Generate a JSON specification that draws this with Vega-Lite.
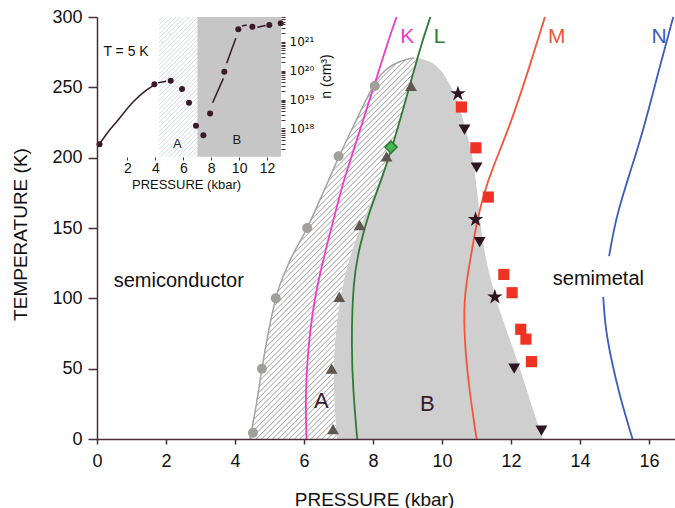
{
  "$schema": "https://vega.github.io/schema/vega-lite/v6.json",
  "width": 578,
  "height": 422,
  "autosize": {"type": "none"},
  "padding": {"left": 97, "top": 17, "right": 0, "bottom": 69},
  "background": "white",
  "config": {"view": {"stroke": null}, "font": "Liberation Sans", "axis": {"grid": false}},
  "datasets": {
    "dome": [
      {"T": 0, "xl": 4.43, "xm": 6.95, "xr": 12.92},
      {"T": 25, "xl": 4.62, "xm": 6.88, "xr": 12.58},
      {"T": 50, "xl": 4.78, "xm": 6.86, "xr": 12.26},
      {"T": 75, "xl": 4.96, "xm": 6.92, "xr": 11.9},
      {"T": 100, "xl": 5.18, "xm": 7.05, "xr": 11.56},
      {"T": 125, "xl": 5.56, "xm": 7.28, "xr": 11.3},
      {"T": 150, "xl": 6.09, "xm": 7.62, "xr": 11.13},
      {"T": 175, "xl": 6.55, "xm": 8.05, "xr": 11.02},
      {"T": 200, "xl": 7.0, "xm": 8.42, "xr": 10.88},
      {"T": 225, "xl": 7.48, "xm": 8.75, "xr": 10.63},
      {"T": 245, "xl": 7.88, "xm": 9.0, "xr": 10.36},
      {"T": 255, "xl": 8.1, "xm": 9.1, "xr": 10.15},
      {"T": 263, "xl": 8.4, "xm": 9.18, "xr": 9.92},
      {"T": 268, "xl": 8.75, "xm": 9.22, "xr": 9.66},
      {"T": 271, "xl": 9.2, "xm": 9.25, "xr": 9.3}
    ],
    "lines": [
      {"line": "K", "seg": "K", "p": 6.07, "T": 0},
      {"line": "K", "seg": "K", "p": 6.04, "T": 30},
      {"line": "K", "seg": "K", "p": 6.1, "T": 60},
      {"line": "K", "seg": "K", "p": 6.28, "T": 99},
      {"line": "K", "seg": "K", "p": 6.65, "T": 137},
      {"line": "K", "seg": "K", "p": 6.95, "T": 165},
      {"line": "K", "seg": "K", "p": 7.15, "T": 184},
      {"line": "K", "seg": "K", "p": 7.38, "T": 201},
      {"line": "K", "seg": "K", "p": 7.9, "T": 241},
      {"line": "K", "seg": "K", "p": 8.45, "T": 284},
      {"line": "K", "seg": "K", "p": 8.68, "T": 300},
      {"line": "L", "seg": "L", "p": 7.54, "T": 0},
      {"line": "L", "seg": "L", "p": 7.42, "T": 35},
      {"line": "L", "seg": "L", "p": 7.37, "T": 66},
      {"line": "L", "seg": "L", "p": 7.42, "T": 113},
      {"line": "L", "seg": "L", "p": 7.61, "T": 137},
      {"line": "L", "seg": "L", "p": 7.88, "T": 161},
      {"line": "L", "seg": "L", "p": 8.24, "T": 184},
      {"line": "L", "seg": "L", "p": 8.55, "T": 207},
      {"line": "L", "seg": "L", "p": 8.95, "T": 241},
      {"line": "L", "seg": "L", "p": 9.35, "T": 277},
      {"line": "L", "seg": "L", "p": 9.66, "T": 300},
      {"line": "M", "seg": "M", "p": 11.0, "T": 0},
      {"line": "M", "seg": "M", "p": 10.75, "T": 41},
      {"line": "M", "seg": "M", "p": 10.63, "T": 78},
      {"line": "M", "seg": "M", "p": 10.65, "T": 100},
      {"line": "M", "seg": "M", "p": 10.73, "T": 115},
      {"line": "M", "seg": "M", "p": 10.87, "T": 135},
      {"line": "M", "seg": "M", "p": 11.02, "T": 156},
      {"line": "M", "seg": "M", "p": 11.22, "T": 175},
      {"line": "M", "seg": "M", "p": 11.45, "T": 192},
      {"line": "M", "seg": "M", "p": 11.96, "T": 222},
      {"line": "M", "seg": "M", "p": 12.54, "T": 265},
      {"line": "M", "seg": "M", "p": 12.98, "T": 300},
      {"line": "N", "seg": "N1", "p": 15.52, "T": 0},
      {"line": "N", "seg": "N1", "p": 15.15, "T": 30},
      {"line": "N", "seg": "N1", "p": 14.86, "T": 61},
      {"line": "N", "seg": "N1", "p": 14.72, "T": 82},
      {"line": "N", "seg": "N1", "p": 14.67, "T": 101},
      {"line": "N", "seg": "N2", "p": 14.84, "T": 130},
      {"line": "N", "seg": "N2", "p": 15.0, "T": 152},
      {"line": "N", "seg": "N2", "p": 15.2, "T": 170},
      {"line": "N", "seg": "N2", "p": 15.4, "T": 186},
      {"line": "N", "seg": "N2", "p": 15.83, "T": 219},
      {"line": "N", "seg": "N2", "p": 16.31, "T": 265},
      {"line": "N", "seg": "N2", "p": 16.7, "T": 300}
    ],
    "lineLabels": [
      {"line": "K", "p": 8.99, "T": 286},
      {"line": "L", "p": 9.93, "T": 286},
      {"line": "M", "p": 13.32, "T": 286},
      {"line": "N", "p": 16.29, "T": 286}
    ],
    "circles": [
      {"p": 4.52, "T": 4.5}, {"p": 4.78, "T": 50}, {"p": 5.18, "T": 100},
      {"p": 6.09, "T": 150}, {"p": 7.0, "T": 201}, {"p": 8.05, "T": 251}
    ],
    "upTri": [
      {"p": 6.84, "T": 7}, {"p": 6.8, "T": 50}, {"p": 7.02, "T": 101},
      {"p": 7.61, "T": 152}, {"p": 8.39, "T": 201}, {"p": 9.1, "T": 251}
    ],
    "diamond": [{"p": 8.52, "T": 207.5}],
    "downTri": [
      {"p": 10.65, "T": 220}, {"p": 11.0, "T": 193}, {"p": 11.09, "T": 140},
      {"p": 12.09, "T": 50}, {"p": 12.88, "T": 6}
    ],
    "stars": [{"p": 10.46, "T": 245.5}, {"p": 10.97, "T": 156}, {"p": 11.53, "T": 101}],
    "squares": [
      {"p": 10.56, "T": 236}, {"p": 10.98, "T": 207}, {"p": 11.34, "T": 172},
      {"p": 11.79, "T": 117}, {"p": 12.03, "T": 104}, {"p": 12.28, "T": 78},
      {"p": 12.43, "T": 71}, {"p": 12.59, "T": 55}
    ],
    "phaseLabels": [
      {"txt": "semiconductor", "p": 2.37, "T": 112},
      {"txt": "semimetal", "p": 14.53, "T": 114}
    ],
    "abLabels": [
      {"txt": "A", "p": 6.5, "T": 27},
      {"txt": "B", "p": 9.57, "T": 25}
    ],
    "insetPts": [
      {"ip": 0, "n": 2.82e17}, {"ip": 3.93, "n": 3.39e19}, {"ip": 5.1, "n": 4.47e19},
      {"ip": 5.91, "n": 2.29e19}, {"ip": 6.41, "n": 7.76e18}, {"ip": 6.91, "n": 1.23e18},
      {"ip": 7.44, "n": 5.75e17}, {"ip": 7.92, "n": 3.31e18}, {"ip": 8.94, "n": 9.12e19},
      {"ip": 9.94, "n": 2.69e21}, {"ip": 10.95, "n": 3.31e21}, {"ip": 12.16, "n": 3.8e21},
      {"ip": 12.98, "n": 4.37e21}
    ],
    "insetLines": [
      {"seg": 1, "ip": 0.05, "n": 3.16e17},
      {"seg": 1, "ip": 0.6, "n": 7.41e17},
      {"seg": 1, "ip": 1.23, "n": 1.7e18},
      {"seg": 1, "ip": 2.42, "n": 8.32e18},
      {"seg": 1, "ip": 3.38, "n": 2.14e19},
      {"seg": 1, "ip": 3.9, "n": 3.16e19},
      {"seg": 2, "ip": 4.2, "n": 3.8e19},
      {"seg": 2, "ip": 4.78, "n": 4.27e19},
      {"seg": 3, "ip": 8.1, "n": 7.76e18},
      {"seg": 3, "ip": 8.87, "n": 5.37e19},
      {"seg": 4, "ip": 9.11, "n": 1.78e20},
      {"seg": 4, "ip": 9.76, "n": 1.32e21},
      {"seg": 5, "ip": 10.2, "n": 3.47e21},
      {"seg": 5, "ip": 10.55, "n": 3.8e21},
      {"seg": 6, "ip": 11.3, "n": 3.16e21},
      {"seg": 6, "ip": 11.9, "n": 3.63e21}
    ],
    "insetGrey": [{"ip": 7.0, "ip2": 13}],
    "insetHatch": [{"ip": 4.26, "ip2": 7.0}],
    "insetText": [
      {"txt": "T = 5 K", "ip": 1.9, "n": 4.47e20}
    ],
    "insetAB": [
      {"txt": "A", "ip": 5.57, "n": 2.88e17},
      {"txt": "B", "ip": 9.83, "n": 3.98e17}
    ]
  },
  "layer": [
    {
      "layer": [
        {
          "data": {"name": "dome"},
          "mark": {"type": "area", "orient": "horizontal", "interpolate": "monotone", "color": "#cfcfcf"},
          "encoding": {
            "y": {"field": "T", "type": "quantitative", "scale": {"domain": [0, 300], "nice": false, "zero": false},
              "axis": {"orient": "left", "zindex": 1, "values": [0, 50, 100, 150, 200, 250, 300], "domainColor": "#4a2f3a", "domainWidth": 1.5, "tickColor": "#4a2f3a", "tickWidth": 1.5, "tickSize": 9, "labelFontSize": 18, "labelColor": "#111", "labelPadding": 6, "labelFont": "Liberation Sans", "title": "TEMPERATURE  (K)", "titleFont": "Liberation Sans", "titleFontSize": 19, "titleFontWeight": "normal", "titleColor": "#111", "titleX": -77, "titleY": 217, "titleAngle": 270, "titleBaseline": "middle", "titleAlign": "center", "grid": false}},
            "x": {"field": "xm", "type": "quantitative", "scale": {"domain": [0, 16.75], "nice": false, "zero": false},
              "axis": {"orient": "bottom", "zindex": 1, "values": [0, 2, 4, 6, 8, 10, 12, 14, 16], "format": "d", "domainColor": "#4a2f3a", "domainWidth": 1.5, "tickColor": "#4a2f3a", "tickWidth": 1.5, "tickSize": 5, "labelFontSize": 18, "labelColor": "#111", "labelPadding": 8, "labelFlush": false, "labelFont": "Liberation Sans", "title": "PRESSURE (kbar)", "titleFont": "Liberation Sans", "titleFontSize": 19, "titleFontWeight": "normal", "titleColor": "#111", "titleX": 277, "titleY": 60, "titleBaseline": "middle", "titleAlign": "center", "grid": false}},
            "x2": {"field": "xr"}
          }
        },
        {
          "data": {"name": "dome"},
          "mark": {"type": "area", "orient": "horizontal", "interpolate": "monotone", "stroke": null,
            "fill": {"gradient": "linear", "x1": 0, "y1": 0, "x2": 0.5264, "y2": 1.2066, "stops": [
{"offset":0.00,"color":"#fff"},{"offset":0.0055,"color":"#fff"},{"offset":0.0075,"color":"#aaa"},
{"offset":0.01,"color":"#fff"},{"offset":0.0155,"color":"#fff"},{"offset":0.0175,"color":"#aaa"},
{"offset":0.02,"color":"#fff"},{"offset":0.0255,"color":"#fff"},{"offset":0.0275,"color":"#aaa"},
{"offset":0.03,"color":"#fff"},{"offset":0.0355,"color":"#fff"},{"offset":0.0375,"color":"#aaa"},
{"offset":0.04,"color":"#fff"},{"offset":0.0455,"color":"#fff"},{"offset":0.0475,"color":"#aaa"},
{"offset":0.05,"color":"#fff"},{"offset":0.0555,"color":"#fff"},{"offset":0.0575,"color":"#aaa"},
{"offset":0.06,"color":"#fff"},{"offset":0.0655,"color":"#fff"},{"offset":0.0675,"color":"#aaa"},
{"offset":0.07,"color":"#fff"},{"offset":0.0755,"color":"#fff"},{"offset":0.0775,"color":"#aaa"},
{"offset":0.08,"color":"#fff"},{"offset":0.0855,"color":"#fff"},{"offset":0.0875,"color":"#aaa"},
{"offset":0.09,"color":"#fff"},{"offset":0.0955,"color":"#fff"},{"offset":0.0975,"color":"#aaa"},
{"offset":0.10,"color":"#fff"},{"offset":0.1055,"color":"#fff"},{"offset":0.1075,"color":"#aaa"},
{"offset":0.11,"color":"#fff"},{"offset":0.1155,"color":"#fff"},{"offset":0.1175,"color":"#aaa"},
{"offset":0.12,"color":"#fff"},{"offset":0.1255,"color":"#fff"},{"offset":0.1275,"color":"#aaa"},
{"offset":0.13,"color":"#fff"},{"offset":0.1355,"color":"#fff"},{"offset":0.1375,"color":"#aaa"},
{"offset":0.14,"color":"#fff"},{"offset":0.1455,"color":"#fff"},{"offset":0.1475,"color":"#aaa"},
{"offset":0.15,"color":"#fff"},{"offset":0.1555,"color":"#fff"},{"offset":0.1575,"color":"#aaa"},
{"offset":0.16,"color":"#fff"},{"offset":0.1655,"color":"#fff"},{"offset":0.1675,"color":"#aaa"},
{"offset":0.17,"color":"#fff"},{"offset":0.1755,"color":"#fff"},{"offset":0.1775,"color":"#aaa"},
{"offset":0.18,"color":"#fff"},{"offset":0.1855,"color":"#fff"},{"offset":0.1875,"color":"#aaa"},
{"offset":0.19,"color":"#fff"},{"offset":0.1955,"color":"#fff"},{"offset":0.1975,"color":"#aaa"},
{"offset":0.20,"color":"#fff"},{"offset":0.2055,"color":"#fff"},{"offset":0.2075,"color":"#aaa"},
{"offset":0.21,"color":"#fff"},{"offset":0.2155,"color":"#fff"},{"offset":0.2175,"color":"#aaa"},
{"offset":0.22,"color":"#fff"},{"offset":0.2255,"color":"#fff"},{"offset":0.2275,"color":"#aaa"},
{"offset":0.23,"color":"#fff"},{"offset":0.2355,"color":"#fff"},{"offset":0.2375,"color":"#aaa"},
{"offset":0.24,"color":"#fff"},{"offset":0.2455,"color":"#fff"},{"offset":0.2475,"color":"#aaa"},
{"offset":0.25,"color":"#fff"},{"offset":0.2555,"color":"#fff"},{"offset":0.2575,"color":"#aaa"},
{"offset":0.26,"color":"#fff"},{"offset":0.2655,"color":"#fff"},{"offset":0.2675,"color":"#aaa"},
{"offset":0.27,"color":"#fff"},{"offset":0.2755,"color":"#fff"},{"offset":0.2775,"color":"#aaa"},
{"offset":0.28,"color":"#fff"},{"offset":0.2855,"color":"#fff"},{"offset":0.2875,"color":"#aaa"},
{"offset":0.29,"color":"#fff"},{"offset":0.2955,"color":"#fff"},{"offset":0.2975,"color":"#aaa"},
{"offset":0.30,"color":"#fff"},{"offset":0.3055,"color":"#fff"},{"offset":0.3075,"color":"#aaa"},
{"offset":0.31,"color":"#fff"},{"offset":0.3155,"color":"#fff"},{"offset":0.3175,"color":"#aaa"},
{"offset":0.32,"color":"#fff"},{"offset":0.3255,"color":"#fff"},{"offset":0.3275,"color":"#aaa"},
{"offset":0.33,"color":"#fff"},{"offset":0.3355,"color":"#fff"},{"offset":0.3375,"color":"#aaa"},
{"offset":0.34,"color":"#fff"},{"offset":0.3455,"color":"#fff"},{"offset":0.3475,"color":"#aaa"},
{"offset":0.35,"color":"#fff"},{"offset":0.3555,"color":"#fff"},{"offset":0.3575,"color":"#aaa"},
{"offset":0.36,"color":"#fff"},{"offset":0.3655,"color":"#fff"},{"offset":0.3675,"color":"#aaa"},
{"offset":0.37,"color":"#fff"},{"offset":0.3755,"color":"#fff"},{"offset":0.3775,"color":"#aaa"},
{"offset":0.38,"color":"#fff"},{"offset":0.3855,"color":"#fff"},{"offset":0.3875,"color":"#aaa"},
{"offset":0.39,"color":"#fff"},{"offset":0.3955,"color":"#fff"},{"offset":0.3975,"color":"#aaa"},
{"offset":0.40,"color":"#fff"},{"offset":0.4055,"color":"#fff"},{"offset":0.4075,"color":"#aaa"},
{"offset":0.41,"color":"#fff"},{"offset":0.4155,"color":"#fff"},{"offset":0.4175,"color":"#aaa"},
{"offset":0.42,"color":"#fff"},{"offset":0.4255,"color":"#fff"},{"offset":0.4275,"color":"#aaa"},
{"offset":0.43,"color":"#fff"},{"offset":0.4355,"color":"#fff"},{"offset":0.4375,"color":"#aaa"},
{"offset":0.44,"color":"#fff"},{"offset":0.4455,"color":"#fff"},{"offset":0.4475,"color":"#aaa"},
{"offset":0.45,"color":"#fff"},{"offset":0.4555,"color":"#fff"},{"offset":0.4575,"color":"#aaa"},
{"offset":0.46,"color":"#fff"},{"offset":0.4655,"color":"#fff"},{"offset":0.4675,"color":"#aaa"},
{"offset":0.47,"color":"#fff"},{"offset":0.4755,"color":"#fff"},{"offset":0.4775,"color":"#aaa"},
{"offset":0.48,"color":"#fff"},{"offset":0.4855,"color":"#fff"},{"offset":0.4875,"color":"#aaa"},
{"offset":0.49,"color":"#fff"},{"offset":0.4955,"color":"#fff"},{"offset":0.4975,"color":"#aaa"},
{"offset":0.50,"color":"#fff"},{"offset":0.5055,"color":"#fff"},{"offset":0.5075,"color":"#aaa"},
{"offset":0.51,"color":"#fff"},{"offset":0.5155,"color":"#fff"},{"offset":0.5175,"color":"#aaa"},
{"offset":0.52,"color":"#fff"},{"offset":0.5255,"color":"#fff"},{"offset":0.5275,"color":"#aaa"},
{"offset":0.53,"color":"#fff"},{"offset":0.5355,"color":"#fff"},{"offset":0.5375,"color":"#aaa"},
{"offset":0.54,"color":"#fff"},{"offset":0.5455,"color":"#fff"},{"offset":0.5475,"color":"#aaa"},
{"offset":0.55,"color":"#fff"},{"offset":0.5555,"color":"#fff"},{"offset":0.5575,"color":"#aaa"},
{"offset":0.56,"color":"#fff"},{"offset":0.5655,"color":"#fff"},{"offset":0.5675,"color":"#aaa"},
{"offset":0.57,"color":"#fff"},{"offset":0.5755,"color":"#fff"},{"offset":0.5775,"color":"#aaa"},
{"offset":0.58,"color":"#fff"},{"offset":0.5855,"color":"#fff"},{"offset":0.5875,"color":"#aaa"},
{"offset":0.59,"color":"#fff"},{"offset":0.5955,"color":"#fff"},{"offset":0.5975,"color":"#aaa"},
{"offset":0.60,"color":"#fff"},{"offset":0.6055,"color":"#fff"},{"offset":0.6075,"color":"#aaa"},
{"offset":0.61,"color":"#fff"},{"offset":0.6155,"color":"#fff"},{"offset":0.6175,"color":"#aaa"},
{"offset":0.62,"color":"#fff"},{"offset":0.6255,"color":"#fff"},{"offset":0.6275,"color":"#aaa"},
{"offset":0.63,"color":"#fff"},{"offset":0.6355,"color":"#fff"},{"offset":0.6375,"color":"#aaa"},
{"offset":0.64,"color":"#fff"},{"offset":0.6455,"color":"#fff"},{"offset":0.6475,"color":"#aaa"},
{"offset":0.65,"color":"#fff"},{"offset":0.6555,"color":"#fff"},{"offset":0.6575,"color":"#aaa"},
{"offset":0.66,"color":"#fff"},{"offset":0.6655,"color":"#fff"},{"offset":0.6675,"color":"#aaa"},
{"offset":0.67,"color":"#fff"},{"offset":0.6755,"color":"#fff"},{"offset":0.6775,"color":"#aaa"},
{"offset":0.68,"color":"#fff"},{"offset":0.6855,"color":"#fff"},{"offset":0.6875,"color":"#aaa"},
{"offset":0.69,"color":"#fff"},{"offset":0.6955,"color":"#fff"},{"offset":0.6975,"color":"#aaa"},
{"offset":0.70,"color":"#fff"},{"offset":0.7055,"color":"#fff"},{"offset":0.7075,"color":"#aaa"},
{"offset":0.71,"color":"#fff"},{"offset":0.7155,"color":"#fff"},{"offset":0.7175,"color":"#aaa"},
{"offset":0.72,"color":"#fff"},{"offset":0.7255,"color":"#fff"},{"offset":0.7275,"color":"#aaa"},
{"offset":0.73,"color":"#fff"},{"offset":0.7355,"color":"#fff"},{"offset":0.7375,"color":"#aaa"},
{"offset":0.74,"color":"#fff"},{"offset":0.7455,"color":"#fff"},{"offset":0.7475,"color":"#aaa"},
{"offset":0.75,"color":"#fff"},{"offset":0.7555,"color":"#fff"},{"offset":0.7575,"color":"#aaa"},
{"offset":0.76,"color":"#fff"},{"offset":0.7655,"color":"#fff"},{"offset":0.7675,"color":"#aaa"},
{"offset":0.77,"color":"#fff"},{"offset":0.7755,"color":"#fff"},{"offset":0.7775,"color":"#aaa"},
{"offset":0.78,"color":"#fff"},{"offset":0.7855,"color":"#fff"},{"offset":0.7875,"color":"#aaa"},
{"offset":0.79,"color":"#fff"},{"offset":0.7955,"color":"#fff"},{"offset":0.7975,"color":"#aaa"},
{"offset":0.80,"color":"#fff"},{"offset":0.8055,"color":"#fff"},{"offset":0.8075,"color":"#aaa"},
{"offset":0.81,"color":"#fff"},{"offset":0.8155,"color":"#fff"},{"offset":0.8175,"color":"#aaa"},
{"offset":0.82,"color":"#fff"},{"offset":0.8255,"color":"#fff"},{"offset":0.8275,"color":"#aaa"},
{"offset":0.83,"color":"#fff"},{"offset":0.8355,"color":"#fff"},{"offset":0.8375,"color":"#aaa"},
{"offset":0.84,"color":"#fff"},{"offset":0.8455,"color":"#fff"},{"offset":0.8475,"color":"#aaa"},
{"offset":0.85,"color":"#fff"},{"offset":0.8555,"color":"#fff"},{"offset":0.8575,"color":"#aaa"},
{"offset":0.86,"color":"#fff"},{"offset":0.8655,"color":"#fff"},{"offset":0.8675,"color":"#aaa"},
{"offset":0.87,"color":"#fff"},{"offset":0.8755,"color":"#fff"},{"offset":0.8775,"color":"#aaa"},
{"offset":0.88,"color":"#fff"},{"offset":0.8855,"color":"#fff"},{"offset":0.8875,"color":"#aaa"},
{"offset":0.89,"color":"#fff"},{"offset":0.8955,"color":"#fff"},{"offset":0.8975,"color":"#aaa"},
{"offset":0.90,"color":"#fff"},{"offset":0.9055,"color":"#fff"},{"offset":0.9075,"color":"#aaa"},
{"offset":0.91,"color":"#fff"},{"offset":0.9155,"color":"#fff"},{"offset":0.9175,"color":"#aaa"},
{"offset":0.92,"color":"#fff"},{"offset":0.9255,"color":"#fff"},{"offset":0.9275,"color":"#aaa"},
{"offset":0.93,"color":"#fff"},{"offset":0.9355,"color":"#fff"},{"offset":0.9375,"color":"#aaa"},
{"offset":0.94,"color":"#fff"},{"offset":0.9455,"color":"#fff"},{"offset":0.9475,"color":"#aaa"},
{"offset":0.95,"color":"#fff"},{"offset":0.9555,"color":"#fff"},{"offset":0.9575,"color":"#aaa"},
{"offset":0.96,"color":"#fff"},{"offset":0.9655,"color":"#fff"},{"offset":0.9675,"color":"#aaa"},
{"offset":0.97,"color":"#fff"},{"offset":0.9755,"color":"#fff"},{"offset":0.9775,"color":"#aaa"},
{"offset":0.98,"color":"#fff"},{"offset":0.9855,"color":"#fff"},{"offset":0.9875,"color":"#aaa"},
{"offset":0.99,"color":"#fff"},{"offset":0.9955,"color":"#fff"},{"offset":0.9975,"color":"#aaa"},
{"offset":1,"color":"#fff"}
            ]}},
          "encoding": {
            "y": {"field": "T", "type": "quantitative", "scale": {"domain": [0, 300], "nice": false, "zero": false}},
            "x": {"field": "xl", "type": "quantitative", "scale": {"domain": [0, 16.75], "nice": false, "zero": false}},
            "x2": {"field": "xm"}
          }
        },
        {
          "data": {"name": "dome"},
          "mark": {"type": "line", "orient": "horizontal", "interpolate": "monotone", "color": "#a3a3a0", "strokeWidth": 1.5},
          "encoding": {
            "y": {"field": "T", "type": "quantitative", "scale": {"domain": [0, 300], "nice": false, "zero": false}},
            "x": {"field": "xl", "type": "quantitative", "scale": {"domain": [0, 16.75], "nice": false, "zero": false}},
            "order": {"field": "T", "type": "quantitative"}
          }
        },
        {
          "data": {"name": "lines"},
          "mark": {"type": "line", "interpolate": "basis", "strokeWidth": 1.8},
          "encoding": {
            "y": {"field": "T", "type": "quantitative", "scale": {"domain": [0, 300], "nice": false, "zero": false}},
            "x": {"field": "p", "type": "quantitative", "scale": {"domain": [0, 16.75], "nice": false, "zero": false}},
            "color": {"field": "line", "type": "nominal", "scale": {"domain": ["K", "L", "M", "N"], "range": ["#ee3ccb", "#2f7a35", "#f2553a", "#3a5cc0"]}, "legend": null},
            "detail": {"field": "seg", "type": "nominal"},
            "order": {"field": "T", "type": "quantitative"}
          }
        },
        {
          "data": {"name": "circles"},
          "mark": {"type": "point", "shape": "circle", "filled": true, "size": 100, "color": "#a09f9b", "opacity": 1},
          "encoding": {
            "y": {"field": "T", "type": "quantitative", "scale": {"domain": [0, 300], "nice": false, "zero": false}},
            "x": {"field": "p", "type": "quantitative", "scale": {"domain": [0, 16.75], "nice": false, "zero": false}}
          }
        },
        {
          "data": {"name": "upTri"},
          "mark": {"type": "point", "shape": "triangle-up", "filled": true, "size": 140, "color": "#5e564f", "opacity": 1},
          "encoding": {
            "y": {"field": "T", "type": "quantitative", "scale": {"domain": [0, 300], "nice": false, "zero": false}},
            "x": {"field": "p", "type": "quantitative", "scale": {"domain": [0, 16.75], "nice": false, "zero": false}}
          }
        },
        {
          "data": {"name": "diamond"},
          "mark": {"type": "point", "shape": "diamond", "filled": true, "size": 150, "fill": "#45b555", "stroke": "#2e7d32", "strokeWidth": 1.5, "opacity": 1},
          "encoding": {
            "y": {"field": "T", "type": "quantitative", "scale": {"domain": [0, 300], "nice": false, "zero": false}},
            "x": {"field": "p", "type": "quantitative", "scale": {"domain": [0, 16.75], "nice": false, "zero": false}}
          }
        },
        {
          "data": {"name": "downTri"},
          "mark": {"type": "point", "shape": "triangle-down", "filled": true, "size": 140, "color": "#2d1420", "opacity": 1},
          "encoding": {
            "y": {"field": "T", "type": "quantitative", "scale": {"domain": [0, 300], "nice": false, "zero": false}},
            "x": {"field": "p", "type": "quantitative", "scale": {"domain": [0, 16.75], "nice": false, "zero": false}}
          }
        },
        {
          "data": {"name": "stars"},
          "mark": {"type": "point", "shape": "M0,-1L0.225,-0.309L0.951,-0.309L0.363,0.118L0.588,0.809L0,0.382L-0.588,0.809L-0.363,0.118L-0.951,-0.309L-0.225,-0.309Z", "filled": true, "size": 260, "color": "#2d1420", "opacity": 1},
          "encoding": {
            "y": {"field": "T", "type": "quantitative", "scale": {"domain": [0, 300], "nice": false, "zero": false}},
            "x": {"field": "p", "type": "quantitative", "scale": {"domain": [0, 16.75], "nice": false, "zero": false}}
          }
        },
        {
          "data": {"name": "squares"},
          "mark": {"type": "point", "shape": "square", "filled": true, "size": 125, "color": "#ee3325", "opacity": 1},
          "encoding": {
            "y": {"field": "T", "type": "quantitative", "scale": {"domain": [0, 300], "nice": false, "zero": false}},
            "x": {"field": "p", "type": "quantitative", "scale": {"domain": [0, 16.75], "nice": false, "zero": false}}
          }
        },
        {
          "data": {"name": "phaseLabels"},
          "mark": {"type": "text", "fontSize": 20, "color": "#111", "align": "center", "baseline": "middle", "font": "Liberation Sans"},
          "encoding": {
            "y": {"field": "T", "type": "quantitative", "scale": {"domain": [0, 300], "nice": false, "zero": false}},
            "x": {"field": "p", "type": "quantitative", "scale": {"domain": [0, 16.75], "nice": false, "zero": false}},
            "text": {"field": "txt"}
          }
        },
        {
          "data": {"name": "abLabels"},
          "mark": {"type": "text", "fontSize": 22, "color": "#3a1a2a", "align": "center", "baseline": "middle", "font": "Liberation Sans"},
          "encoding": {
            "y": {"field": "T", "type": "quantitative", "scale": {"domain": [0, 300], "nice": false, "zero": false}},
            "x": {"field": "p", "type": "quantitative", "scale": {"domain": [0, 16.75], "nice": false, "zero": false}},
            "text": {"field": "txt"}
          }
        },
        {
          "data": {"name": "lineLabels"},
          "mark": {"type": "text", "fontSize": 21, "align": "center", "baseline": "middle", "font": "Liberation Sans"},
          "encoding": {
            "y": {"field": "T", "type": "quantitative", "scale": {"domain": [0, 300], "nice": false, "zero": false}},
            "x": {"field": "p", "type": "quantitative", "scale": {"domain": [0, 16.75], "nice": false, "zero": false}},
            "color": {"field": "line", "type": "nominal", "scale": {"domain": ["K", "L", "M", "N"], "range": ["#ee3ccb", "#2f7a35", "#f2553a", "#3a5cc0"]}, "legend": null},
            "text": {"field": "line"}
          }
        },
        {
          "mark": {"type": "rule", "color": "#4a2f3a", "strokeWidth": 1.5},
          "encoding": {
            "y": {"datum": 300, "type": "quantitative", "scale": {"domain": [0, 300], "nice": false, "zero": false}}
          }
        }
      ]
    },
    {
      "layer": [
        {
          "data": {"name": "insetGrey"},
          "mark": {"type": "rect", "color": "#c6c6c6"},
          "encoding": {
            "x": {"field": "ip", "type": "quantitative", "scale": {"domain": [-0.18, 41.22], "nice": false, "zero": false}},
            "x2": {"field": "ip2"},
            "y": {"datum": 1.05e17, "type": "quantitative", "scale": {"type": "log", "domain": [1.79e7, 7.16e21], "nice": false}},
            "y2": {"datum": 7.16e21}
          }
        },
        {
          "data": {"name": "insetHatch"},
          "mark": {"type": "rect", "stroke": null,
            "fill": {"gradient": "linear", "x1": 0, "y1": 0, "x2": 0.3239, "y2": 1.1848, "stops": [
{"offset":0.000,"color":"#fff"},{"offset":0.014,"color":"#fff"},{"offset":0.019,"color":"#d3d9e8"},
{"offset":0.025,"color":"#fff"},{"offset":0.039,"color":"#fff"},{"offset":0.044,"color":"#d3d9e8"},
{"offset":0.050,"color":"#fff"},{"offset":0.064,"color":"#fff"},{"offset":0.069,"color":"#d3d9e8"},
{"offset":0.075,"color":"#fff"},{"offset":0.089,"color":"#fff"},{"offset":0.094,"color":"#d3d9e8"},
{"offset":0.100,"color":"#fff"},{"offset":0.114,"color":"#fff"},{"offset":0.119,"color":"#d3d9e8"},
{"offset":0.125,"color":"#fff"},{"offset":0.139,"color":"#fff"},{"offset":0.144,"color":"#d3d9e8"},
{"offset":0.150,"color":"#fff"},{"offset":0.164,"color":"#fff"},{"offset":0.169,"color":"#d3d9e8"},
{"offset":0.175,"color":"#fff"},{"offset":0.189,"color":"#fff"},{"offset":0.194,"color":"#d3d9e8"},
{"offset":0.200,"color":"#fff"},{"offset":0.214,"color":"#fff"},{"offset":0.219,"color":"#d3d9e8"},
{"offset":0.225,"color":"#fff"},{"offset":0.239,"color":"#fff"},{"offset":0.244,"color":"#d3d9e8"},
{"offset":0.250,"color":"#fff"},{"offset":0.264,"color":"#fff"},{"offset":0.269,"color":"#d3d9e8"},
{"offset":0.275,"color":"#fff"},{"offset":0.289,"color":"#fff"},{"offset":0.294,"color":"#d3d9e8"},
{"offset":0.300,"color":"#fff"},{"offset":0.314,"color":"#fff"},{"offset":0.319,"color":"#d3d9e8"},
{"offset":0.325,"color":"#fff"},{"offset":0.339,"color":"#fff"},{"offset":0.344,"color":"#d3d9e8"},
{"offset":0.350,"color":"#fff"},{"offset":0.364,"color":"#fff"},{"offset":0.369,"color":"#d3d9e8"},
{"offset":0.375,"color":"#fff"},{"offset":0.389,"color":"#fff"},{"offset":0.394,"color":"#d3d9e8"},
{"offset":0.400,"color":"#fff"},{"offset":0.414,"color":"#fff"},{"offset":0.419,"color":"#d3d9e8"},
{"offset":0.425,"color":"#fff"},{"offset":0.439,"color":"#fff"},{"offset":0.444,"color":"#d3d9e8"},
{"offset":0.450,"color":"#fff"},{"offset":0.464,"color":"#fff"},{"offset":0.469,"color":"#d3d9e8"},
{"offset":0.475,"color":"#fff"},{"offset":0.489,"color":"#fff"},{"offset":0.494,"color":"#d3d9e8"},
{"offset":0.500,"color":"#fff"},{"offset":0.514,"color":"#fff"},{"offset":0.519,"color":"#d3d9e8"},
{"offset":0.525,"color":"#fff"},{"offset":0.539,"color":"#fff"},{"offset":0.544,"color":"#d3d9e8"},
{"offset":0.550,"color":"#fff"},{"offset":0.564,"color":"#fff"},{"offset":0.569,"color":"#d3d9e8"},
{"offset":0.575,"color":"#fff"},{"offset":0.589,"color":"#fff"},{"offset":0.594,"color":"#d3d9e8"},
{"offset":0.600,"color":"#fff"},{"offset":0.614,"color":"#fff"},{"offset":0.619,"color":"#d3d9e8"},
{"offset":0.625,"color":"#fff"},{"offset":0.639,"color":"#fff"},{"offset":0.644,"color":"#d3d9e8"},
{"offset":0.650,"color":"#fff"},{"offset":0.664,"color":"#fff"},{"offset":0.669,"color":"#d3d9e8"},
{"offset":0.675,"color":"#fff"},{"offset":0.689,"color":"#fff"},{"offset":0.694,"color":"#d3d9e8"},
{"offset":0.700,"color":"#fff"},{"offset":0.714,"color":"#fff"},{"offset":0.719,"color":"#d3d9e8"},
{"offset":0.725,"color":"#fff"},{"offset":0.739,"color":"#fff"},{"offset":0.744,"color":"#d3d9e8"},
{"offset":0.750,"color":"#fff"},{"offset":0.764,"color":"#fff"},{"offset":0.769,"color":"#d3d9e8"},
{"offset":0.775,"color":"#fff"},{"offset":0.789,"color":"#fff"},{"offset":0.794,"color":"#d3d9e8"},
{"offset":0.800,"color":"#fff"},{"offset":0.814,"color":"#fff"},{"offset":0.819,"color":"#d3d9e8"},
{"offset":0.825,"color":"#fff"},{"offset":0.839,"color":"#fff"},{"offset":0.844,"color":"#d3d9e8"},
{"offset":0.850,"color":"#fff"},{"offset":0.864,"color":"#fff"},{"offset":0.869,"color":"#d3d9e8"},
{"offset":0.875,"color":"#fff"},{"offset":0.889,"color":"#fff"},{"offset":0.894,"color":"#d3d9e8"},
{"offset":0.900,"color":"#fff"},{"offset":0.914,"color":"#fff"},{"offset":0.919,"color":"#d3d9e8"},
{"offset":0.925,"color":"#fff"},{"offset":0.939,"color":"#fff"},{"offset":0.944,"color":"#d3d9e8"},
{"offset":0.950,"color":"#fff"},{"offset":0.964,"color":"#fff"},{"offset":0.969,"color":"#d3d9e8"},
{"offset":0.975,"color":"#fff"},{"offset":0.989,"color":"#fff"},{"offset":0.994,"color":"#d3d9e8"},
{"offset":1,"color":"#fff"}
            ]}},
          "encoding": {
            "x": {"field": "ip", "type": "quantitative", "scale": {"domain": [-0.18, 41.22], "nice": false, "zero": false}},
            "x2": {"field": "ip2"},
            "y": {"datum": 1.05e17, "type": "quantitative", "scale": {"type": "log", "domain": [1.79e7, 7.16e21], "nice": false}},
            "y2": {"datum": 7.16e21}
          }
        },
        {
          "mark": {"type": "rule", "color": "#4a2f3a", "strokeWidth": 1.5},
          "encoding": {
            "x": {"datum": -0.18, "type": "quantitative", "scale": {"domain": [-0.18, 41.22], "nice": false, "zero": false}},
            "x2": {"datum": 13},
            "y": {"datum": 1.05e17, "type": "quantitative", "scale": {"type": "log", "domain": [1.79e7, 7.16e21], "nice": false}}
          }
        },
        {
          "mark": {"type": "rule", "color": "#4a2f3a", "strokeWidth": 1.5},
          "encoding": {
            "x": {"datum": 13, "type": "quantitative", "scale": {"domain": [-0.18, 41.22], "nice": false, "zero": false}},
            "y": {"datum": 1.05e17, "type": "quantitative", "scale": {"type": "log", "domain": [1.79e7, 7.16e21], "nice": false}},
            "y2": {"datum": 7.16e21}
          }
        },
        {
          "data": {"name": "insetLines"},
          "mark": {"type": "line", "interpolate": "monotone", "color": "#3a1828", "strokeWidth": 1.5},
          "encoding": {
            "x": {"field": "ip", "type": "quantitative", "scale": {"domain": [-0.18, 41.22], "nice": false, "zero": false}},
            "y": {"field": "n", "type": "quantitative", "scale": {"type": "log", "domain": [1.79e7, 7.16e21], "nice": false}},
            "detail": {"field": "seg", "type": "nominal"},
            "order": {"field": "ip", "type": "quantitative"}
          }
        },
        {
          "data": {"name": "insetPts"},
          "mark": {"type": "point", "shape": "circle", "filled": true, "size": 36, "color": "#3a1828", "opacity": 1},
          "encoding": {
            "x": {"field": "ip", "type": "quantitative", "scale": {"domain": [-0.18, 41.22], "nice": false, "zero": false},
              "axis": {"orient": "bottom", "offset": -282, "zindex": 1, "values": [2, 4, 6, 8, 10, 12], "format": "d", "domain": false, "ticks": true, "tickSize": 3, "tickColor": "#4a2f3a", "labelFontSize": 14, "labelColor": "#111", "labelPadding": 1, "labelFlush": false, "labelFont": "Liberation Sans", "title": "PRESSURE (kbar)", "titleFont": "Liberation Sans", "titleFontSize": 13, "titleFontWeight": "normal", "titleColor": "#111", "titleX": 89, "titleY": 27, "titleBaseline": "middle", "titleAlign": "center", "grid": false}},
            "y": {"field": "n", "type": "quantitative", "scale": {"type": "log", "domain": [1.79e7, 7.16e21], "nice": false},
              "axis": {"orient": "right", "offset": -394, "zindex": 1, "values": [2e17, 3e17, 4e17, 5e17, 6e17, 7e17, 8e17, 9e17, 1e18, 2e18, 3e18, 4e18, 5e18, 6e18, 7e18, 8e18, 9e18, 1e19, 2e19, 3e19, 4e19, 5e19, 6e19, 7e19, 8e19, 9e19, 1e20, 2e20, 3e20, 4e20, 5e20, 6e20, 7e20, 8e20, 9e20, 1e21, 2e21, 3e21, 4e21, 5e21, 6e21, 7e21], "domain": false, "tickSize": 4, "tickColor": "#4a2f3a", "labelExpr": "datum.value == 1e18 ? '10¹⁸' : datum.value == 1e19 ? '10¹⁹' : datum.value == 1e20 ? '10²⁰' : datum.value == 1e21 ? '10²¹' : ''", "labelFontSize": 12, "labelColor": "#111", "labelPadding": 4, "labelOverlap": false, "labelFlush": false, "labelFont": "DejaVu Sans", "title": "n (cm³)", "titleFont": "Liberation Sans", "titleFontSize": 14, "titleFontWeight": "normal", "titleColor": "#111", "titleAngle": 270, "titleX": 45, "titleY": 59, "titleBaseline": "middle", "titleAlign": "center", "grid": false}}
          }
        },
        {
          "data": {"name": "insetText"},
          "mark": {"type": "text", "fontSize": 14, "color": "#111", "align": "center", "baseline": "middle", "font": "Liberation Sans"},
          "encoding": {
            "x": {"field": "ip", "type": "quantitative", "scale": {"domain": [-0.18, 41.22], "nice": false, "zero": false}},
            "y": {"field": "n", "type": "quantitative", "scale": {"type": "log", "domain": [1.79e7, 7.16e21], "nice": false}},
            "text": {"field": "txt"}
          }
        },
        {
          "data": {"name": "insetAB"},
          "mark": {"type": "text", "fontSize": 13, "color": "#222", "align": "center", "baseline": "middle", "font": "Liberation Sans"},
          "encoding": {
            "x": {"field": "ip", "type": "quantitative", "scale": {"domain": [-0.18, 41.22], "nice": false, "zero": false}},
            "y": {"field": "n", "type": "quantitative", "scale": {"type": "log", "domain": [1.79e7, 7.16e21], "nice": false}},
            "text": {"field": "txt"}
          }
        }
      ]
    }
  ],
  "resolve": {"scale": {"x": "independent", "y": "independent"}}
}
